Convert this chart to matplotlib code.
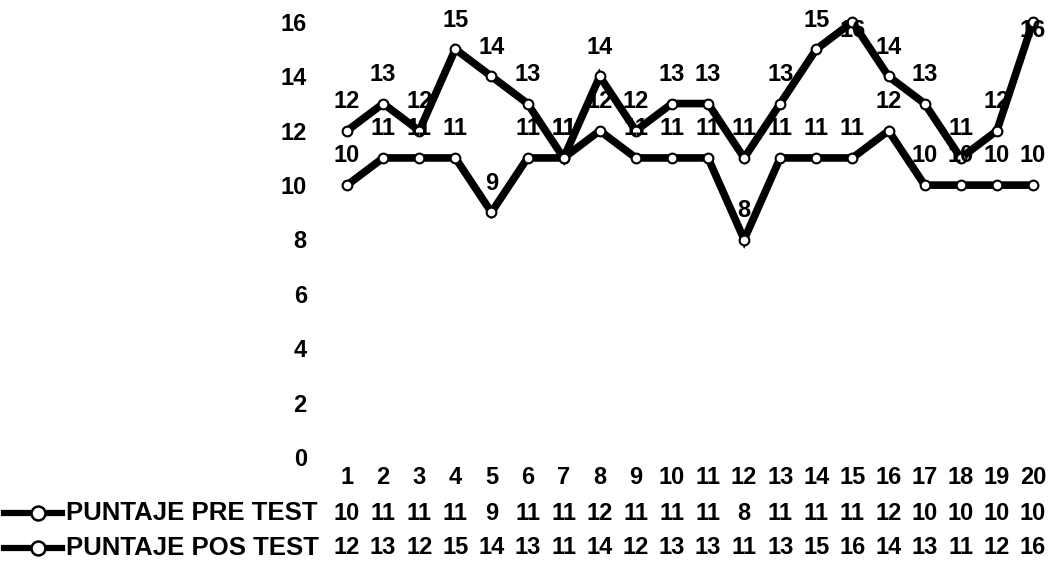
import matplotlib
matplotlib.use("Agg")
import matplotlib.pyplot as plt
import matplotlib.transforms as mtransforms
from matplotlib.lines import Line2D

categories = [str(i) for i in range(1, 21)]
pre_test = [10, 11, 11, 11, 9, 11, 11, 12, 11, 11, 11, 8, 11, 11, 11, 12, 10, 10, 10, 10]
pos_test = [12, 13, 12, 15, 14, 13, 11, 14, 12, 13, 13, 11, 13, 15, 16, 14, 13, 11, 12, 16]
series_names = ["PUNTAJE PRE TEST", "PUNTAJE POS TEST"]
y_ticks = [0, 2, 4, 6, 8, 10, 12, 14, 16]

plt.rcParams['font.family'] = ['Liberation Sans', 'DejaVu Sans']
FS = 17
FS_LEG = 18.5
WT = 'bold'

W, H = 1052, 562
fig = plt.figure(figsize=(W / 100, H / 100), dpi=100)
ax = fig.add_axes([329 / W, 1 - 457 / H, (1051 - 329) / W, (457 - 22) / H])

x = list(range(len(categories)))
line_kw = dict(color='black', lw=5.5, marker='o', markersize=7,
               markerfacecolor='white', markeredgecolor='black', markeredgewidth=1.5,
               clip_on=False, solid_joinstyle='miter')
ax.plot(x, pre_test, **line_kw)
ax.plot(x, pos_test, **line_kw)

def label(xi, v, dy=21, dx=0):
    ax.annotate(str(v), (xi, v), xytext=(dx, dy), textcoords='offset points',
                ha='center', va='center', fontsize=FS, fontweight=WT,
                annotation_clip=False)

for xi, v in zip(x, pre_test):
    label(xi, v)
for xi, v in zip(x, pos_test):
    if v >= 16:
        label(xi, v, dy=-6, dx=0)
    else:
        label(xi, v)

ax.set_xlim(-0.5, len(categories) - 0.5)
ax.set_ylim(0, 16)
ax.set_yticks(y_ticks)
ax.set_yticklabels([str(t) for t in y_ticks], fontsize=FS, fontweight=WT)
ax.tick_params(axis='y', length=0, pad=16)
ax.set_xticks([])
for s in ax.spines.values():
    s.set_visible(False)

# data table below
trans = mtransforms.blended_transform_factory(ax.transData, fig.transFigure)
row_y = [1 - 477 / H, 1 - 513 / H, 1 - 548 / H]
for xi, c in zip(x, categories):
    ax.text(xi, row_y[0], c, transform=trans, ha='center', va='center', fontsize=FS, fontweight=WT)
for xi, v in zip(x, pre_test):
    ax.text(xi, row_y[1], str(v), transform=trans, ha='center', va='center', fontsize=FS, fontweight=WT)
for xi, v in zip(x, pos_test):
    ax.text(xi, row_y[2], str(v), transform=trans, ha='center', va='center', fontsize=FS, fontweight=WT)

for ry, name in zip(row_y[1:], series_names):
    fig.add_artist(Line2D([4 / W, 62 / W], [ry, ry], transform=fig.transFigure, color='black', lw=4.5))
    fig.add_artist(Line2D([38 / W], [ry], transform=fig.transFigure, marker='o', markersize=10,
                          markerfacecolor='white', markeredgecolor='black', markeredgewidth=1.8, lw=0))
    fig.text(66 / W, ry, name, ha='left', va='center', fontsize=FS_LEG, fontweight=WT)

fig.savefig('out.png', dpi=100)
